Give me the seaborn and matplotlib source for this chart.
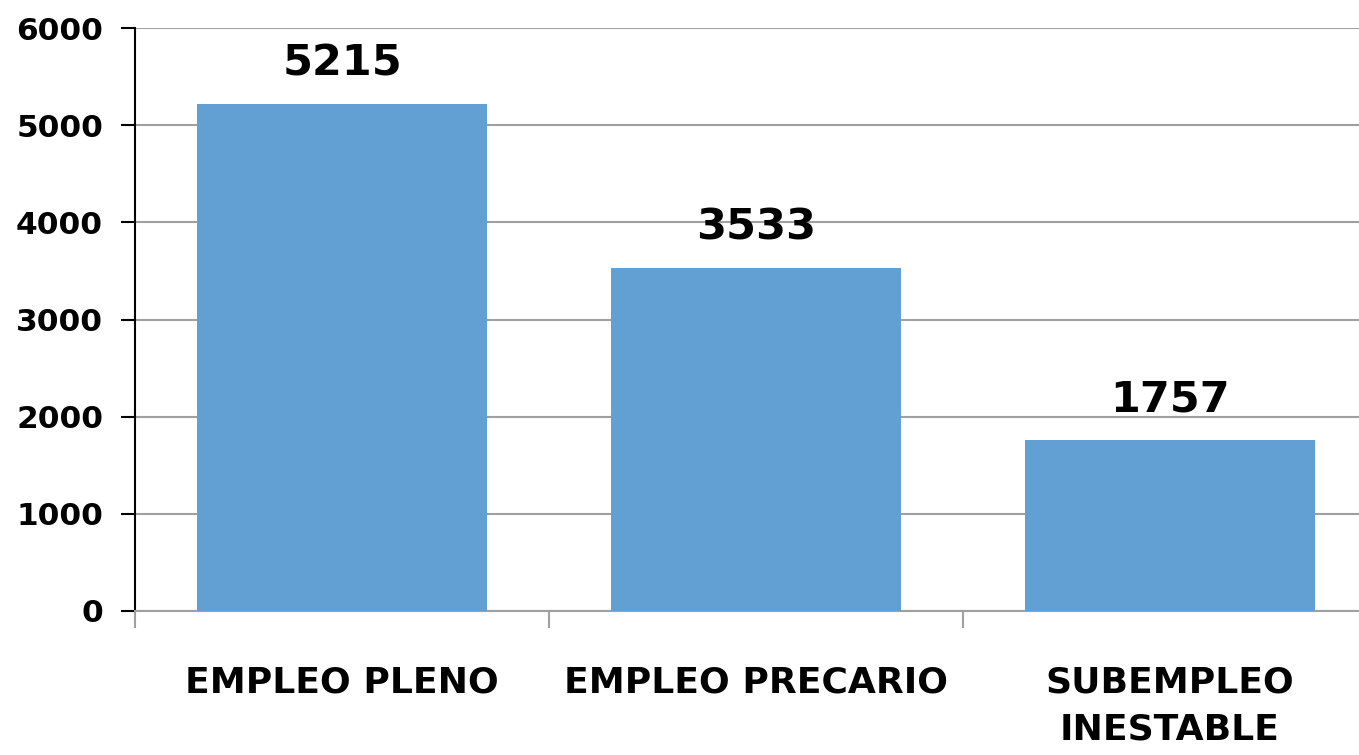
import matplotlib
matplotlib.use("Agg")
import matplotlib.pyplot as plt
import seaborn as sns
import pandas as pd
import numpy as np

categories = ["EMPLEO PLENO", "EMPLEO PRECARIO", "SUBEMPLEO\nINESTABLE"]
values = [5215, 3533, 1757]
yticks = [0, 1000, 2000, 3000, 4000, 5000, 6000]

sns.set_theme(style="white")
plt.rcParams['font.family'] = ['DejaVu Sans']
plt.rcParams['text.color'] = 'black'
plt.rcParams['xtick.color'] = 'black'
plt.rcParams['ytick.color'] = 'black'

df = pd.DataFrame({"cat": categories, "val": values})

fig = plt.figure(figsize=(13.59, 7.55), dpi=100)
ax = fig.add_axes([135/1359, 1-611/755, 1242/1359, (611-28)/755])

sns.barplot(data=df, x="cat", y="val", color="#629FD2", width=0.7, ax=ax,
            saturation=1, zorder=3, linewidth=0, edgecolor="none")

ax.set_ylim(0, 6000)
ax.set_xlim(-0.5, 2.5)
ax.set_yticks(yticks)
ax.set_yticklabels([str(t) for t in yticks], fontsize=22.5, fontweight="bold", color="black")
ax.yaxis.grid(True, color="#A0A0A0", linewidth=1.5, zorder=0)
ax.set_axisbelow(True)

for s in ["top", "right"]:
    ax.spines[s].set_visible(False)
ax.spines["left"].set_color("black")
ax.spines["left"].set_linewidth(1.5)
ax.spines["bottom"].set_color("#A0A0A0")
ax.spines["bottom"].set_linewidth(1.5)

ax.tick_params(axis="y", which="major", left=True, length=10, width=1.5, color="black", pad=13)
ax.tick_params(axis="x", which="major", bottom=False, pad=33)
ax.set_xticks([-0.5, 0.5, 1.5, 2.5], minor=True)
ax.tick_params(axis="x", which="minor", bottom=True, length=12, width=1.5, color="#A0A0A0")
for lbl in ax.get_xticklabels():
    lbl.set_fontsize(26)
    lbl.set_fontweight("bold")
    lbl.set_color("black")
    lbl.set_linespacing(1.5)
    lbl.set_verticalalignment("top")

ax.set_xlabel("")
ax.set_ylabel("")

for c in ax.containers:
    ax.bar_label(c, labels=[str(v) for v in values], padding=14, fontsize=31,
                 fontweight="bold", color="black")

fig.savefig("out.png", dpi=100)
